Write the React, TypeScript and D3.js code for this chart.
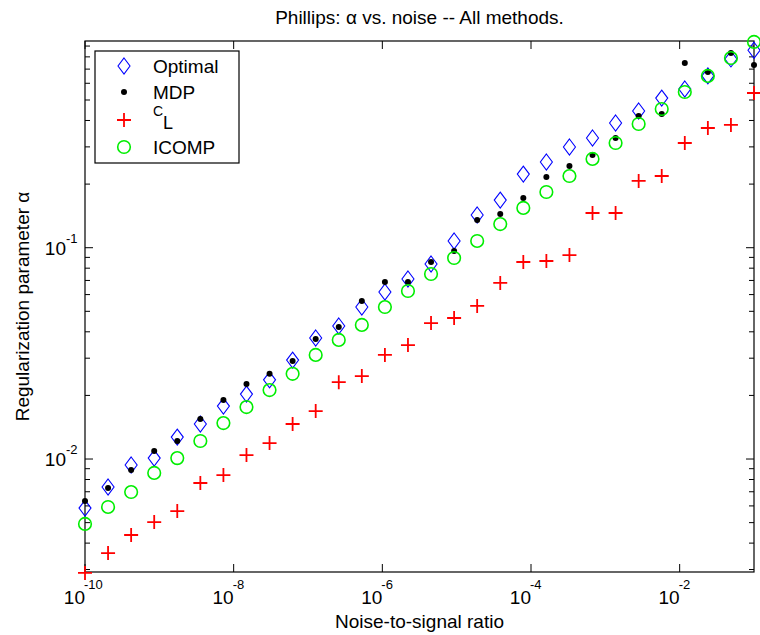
import React from "react";
import * as d3 from "d3";

// Noise-to-signal ratios (30 levels)
const noiseLevels: number[] = [
  1.0e-10, 2.043e-10, 4.175e-10, 8.532e-10, 1.743e-9, 3.562e-9, 7.279e-9, 1.487e-8,
  3.039e-8, 6.21e-8, 1.269e-7, 2.593e-7, 5.298e-7, 1.083e-6, 2.212e-6, 4.52e-6,
  9.237e-6, 1.887e-5, 3.857e-5, 7.881e-5, 1.61e-4, 3.29e-4, 6.723e-4, 1.374e-3,
  2.807e-3, 5.736e-3, 1.172e-2, 2.395e-2, 4.894e-2, 1.0e-1,
];

const optimalAlpha: number[] = [
  0.00586, 0.00737, 0.00937, 0.0101, 0.0127, 0.01465, 0.0178, 0.0203, 0.0237, 0.0294,
  0.0374, 0.0426, 0.0524, 0.0617, 0.0711, 0.0837, 0.1076, 0.1428, 0.168, 0.223,
  0.2544, 0.2996, 0.3305, 0.389, 0.4436, 0.5105, 0.5636, 0.65, 0.782, 0.86,
];

const mdpAlpha: number[] = [
  0.00633, 0.00729, 0.00887, 0.0109, 0.01217, 0.01546, 0.019, 0.02265, 0.0253, 0.0291,
  0.037, 0.0421, 0.056, 0.0688, 0.0688, 0.0856, 0.0965, 0.1352, 0.1443, 0.1718,
  0.2161, 0.2436, 0.2746, 0.3305, 0.4197, 0.4296, 0.748, 0.6785, 0.834, 0.732,
];

const clAlpha: number[] = [
  0.00289, 0.00359, 0.00437, 0.00503, 0.00567, 0.0077, 0.0084, 0.01044, 0.0119, 0.01465,
  0.01687, 0.0231, 0.0247, 0.0311, 0.0346, 0.044, 0.0465, 0.053, 0.0681, 0.0856,
  0.0865, 0.0923, 0.146, 0.146, 0.207, 0.2184, 0.313, 0.3685, 0.381, 0.5395,
];

const icompAlpha: number[] = [
  0.00493, 0.00593, 0.00698, 0.00859, 0.0101, 0.01217, 0.0148, 0.01762, 0.0212, 0.0253,
  0.0311, 0.0366, 0.0431, 0.0524, 0.0624, 0.0751, 0.0894, 0.1076, 0.1294, 0.1542,
  0.1835, 0.2184, 0.263, 0.313, 0.3849, 0.4533, 0.5456, 0.65, 0.79, 0.941,
];

const xTickExponents: string[] = ["-10", "-8", "-6", "-4", "-2"];
const yTickExponents: string[] = ["-2", "-1"];

const seriesNames: string[] = ["Optimal", "MDP", "C_L", "ICOMP"];

const W = 760;
const H = 635;
const left = 85;
const right = 754;
const top = 41;
const bottom = 572;
const FONT = "'Liberation Sans', Arial, Helvetica, sans-serif";

const xScale = d3.scaleLog().domain([1e-10, 1e-1]).range([left, right]);
const yScale = d3.scaleLog().domain([0.00292, 0.951]).range([bottom, top]);

function Diamond({ x, y }: { x: number; y: number }) {
  const w = 6, h = 8;
  return (
    <path
      d={`M${x},${y - h}L${x + w},${y}L${x},${y + h}L${x - w},${y}Z`}
      fill="none"
      stroke="#0000ff"
      strokeWidth={1.1}
    />
  );
}
function Dot({ x, y }: { x: number; y: number }) {
  return <circle cx={x} cy={y} r={3} fill="#000" />;
}
function Plus({ x, y }: { x: number; y: number }) {
  const s = 7;
  return (
    <path
      d={`M${x - s},${y}H${x + s}M${x},${y - s}V${y + s}`}
      stroke="#ff0000"
      strokeWidth={1.8}
      fill="none"
    />
  );
}
function Ring({ x, y }: { x: number; y: number }) {
  return <circle cx={x} cy={y} r={6.3} fill="none" stroke="#00ee00" strokeWidth={1.6} />;
}

export default function App() {
  const xMajor = xTickExponents.map((e) => Math.pow(10, +e));
  const yMajor = yTickExponents.map((e) => Math.pow(10, +e));
  const yMinor: number[] = [];
  for (let d = -3; d <= 0; d++) {
    for (let m = 2; m <= 9; m++) {
      const v = m * Math.pow(10, d);
      if (v >= yScale.domain()[0] && v <= yScale.domain()[1]) yMinor.push(v);
    }
  }

  const series = [
    { vals: optimalAlpha, M: Diamond },
    { vals: mdpAlpha, M: Dot },
    { vals: clAlpha, M: Plus },
    { vals: icompAlpha, M: Ring },
  ];
  const legendY = [66, 92, 120, 147];

  return (
    <svg
      width={W}
      height={H}
      style={{ position: "absolute", left: 0, top: 0, background: "#fff" }}
      fontFamily={FONT}
    >
      <rect x={0} y={0} width={W} height={H} fill="#fff" />
      {/* Title */}
      <text x={(left + right) / 2} y={24} textAnchor="middle" fontSize={19} fill="#000">
        Phillips: α vs. noise -- All methods.
      </text>

      {/* x ticks */}
      {xMajor.map((v, i) => {
        const x = xScale(v);
        return (
          <g key={"xt" + i}>
            <line x1={x} x2={x} y1={bottom} y2={bottom - 8} stroke="#000" />
            <line x1={x} x2={x} y1={top} y2={top + 8} stroke="#000" />
            <text x={x} y={604} textAnchor="end" fontSize={19} fill="#000">10</text>
            <text x={x - 1} y={589} textAnchor="start" fontSize={13} fill="#000">{xTickExponents[i]}</text>
          </g>
        );
      })}
      {/* y ticks */}
      {yMinor.map((v, i) => {
        const y = yScale(v);
        return (
          <g key={"ym" + i}>
            <line x1={left} x2={left + 5} y1={y} y2={y} stroke="#000" />
            <line x1={right} x2={right - 5} y1={y} y2={y} stroke="#000" />
          </g>
        );
      })}
      {yMajor.map((v, i) => {
        const y = yScale(v);
        return (
          <g key={"yt" + i}>
            <line x1={left} x2={left + 8} y1={y} y2={y} stroke="#000" />
            <line x1={right} x2={right - 8} y1={y} y2={y} stroke="#000" />
            <text x={66} y={y + 7} textAnchor="end" fontSize={19} fill="#000">10</text>
            <text x={66} y={y - 5} textAnchor="start" fontSize={13} fill="#000">{yTickExponents[i]}</text>
          </g>
        );
      })}

      {/* Axis box */}
      <rect x={left} y={top} width={right - left} height={bottom - top} fill="none" stroke="#000" strokeWidth={1.2} />

      {/* Axis labels */}
      <text x={(left + right) / 2} y={628} textAnchor="middle" fontSize={19} fill="#000">
        Noise-to-signal ratio
      </text>
      <text
        transform={`translate(29,${(top + bottom) / 2}) rotate(-90)`}
        textAnchor="middle"
        fontSize={19}
        fill="#000"
      >
        Regularization parameter α
      </text>

      {/* Data */}
      {series.map((s, si) => (
        <g key={"s" + si}>
          {s.vals.map((v, i) => (
            <s.M key={i} x={xScale(noiseLevels[i])} y={yScale(v)} />
          ))}
        </g>
      ))}

      {/* Legend */}
      <rect x={95} y={51} width={144} height={112} fill="#fff" stroke="#000" strokeWidth={1.2} />
      {series.map((s, si) => (
        <g key={"lg" + si}>
          <s.M x={124} y={legendY[si]} />
          {seriesNames[si] === "C_L" ? (
            <g>
              <text x={153} y={legendY[si] - 4} fontSize={14} fill="#000">C</text>
              <text x={163} y={legendY[si] + 9} fontSize={18} fill="#000">L</text>
            </g>
          ) : (
            <text x={153} y={legendY[si] + 7} fontSize={19} fill="#000">
              {seriesNames[si]}
            </text>
          )}
        </g>
      ))}
    </svg>
  );
}
